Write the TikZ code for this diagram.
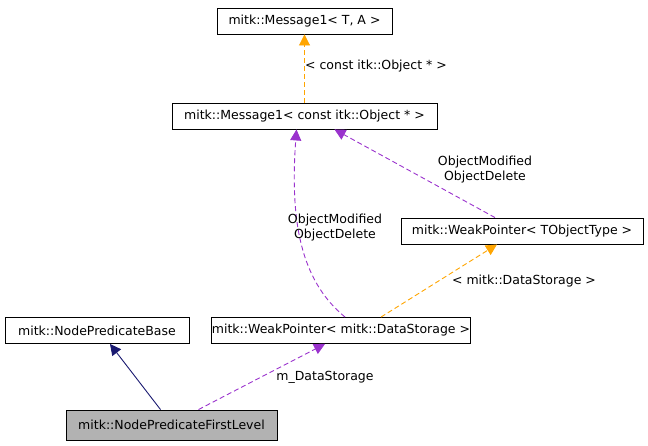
\documentclass[tikz,border=0pt]{standalone}
\usepackage{fontspec}
\setmainfont{DejaVu Sans}
\usetikzlibrary{arrows.meta,positioning}

\definecolor{usecol}{HTML}{9A32CD}
\definecolor{tmplcol}{HTML}{FFA500}
\definecolor{inhcol}{HTML}{191970}

\tikzset{
    cls/.style={draw, fill=white, inner sep=0pt, line width=0.9pt, minimum height=26pt, font=\fontsize{12.5}{14}\selectfont},
    lbl/.style={font=\fontsize{12.5}{15}\selectfont, align=center},
    use/.style={draw=usecol, line width=0.9pt, dash pattern=on 5pt off 3pt, -{Triangle[length=11pt,width=11pt,fill=usecol]}},
    tmpl/.style={draw=tmplcol, line width=0.9pt, dash pattern=on 5pt off 3pt, -{Triangle[length=11pt,width=11pt,fill=tmplcol]}},
    inh/.style={draw=inhcol, line width=0.9pt, -{Triangle[length=11pt,width=11pt,fill=inhcol]}}
}

\begin{document}
\begin{tikzpicture}[x=1pt, y=-1pt]
    \useasboundingbox (0,0) rectangle (648,445);

    % classes
    \node[cls, minimum width=175pt] (msgta) at (304.5,21) {mitk::Message1< T, A >};
    \node[cls, minimum width=265pt] (msgobj) at (304.5,116) {mitk::Message1< const itk::Object * >};
    \node[cls, minimum width=242pt] (wpt) at (522,231) {mitk::WeakPointer< TObjectType >};
    \node[cls, minimum width=184pt] (predbase) at (97,330.5) {mitk::NodePredicateBase};
    \node[cls, minimum width=256pt] (wpds) at (341,330.5) {mitk::WeakPointer< mitk::DataStorage >};
    \node[cls, minimum width=211pt, minimum height=30pt, fill=gray!60] (first) at (171.5,425) {mitk::NodePredicateFirstLevel};

    % template instances
    \draw[tmpl] (msgobj.north) -- (msgta.south);
    \node[lbl] at (376,66) {< const itk::Object * >};
    \draw[tmpl] ([xshift=40pt]wpds.north) -- ([xshift=-25pt]wpt.south);
    \node[lbl] at (524,281) {< mitk::DataStorage >};

    % usage
    \draw[use] ([xshift=-27pt]wpt.north) -- ([xshift=30pt]msgobj.south);
    \node[lbl] at (485,170) {ObjectModified\\ObjectDelete};
    \draw[use] ([xshift=4pt]wpds.north) .. controls (300,280) and (290,220) .. ([xshift=-8pt]msgobj.south);
    \node[lbl] at (335,228) {ObjectModified\\ObjectDelete};
    \draw[use] ([xshift=27pt]first.north) -- ([xshift=-16pt]wpds.south);
    \node[lbl] at (325,377) {m\_DataStorage};

    % inheritance
    \draw[inh] ([xshift=-11pt]first.north) -- ([xshift=13pt]predbase.south);
\end{tikzpicture}
\end{document}
